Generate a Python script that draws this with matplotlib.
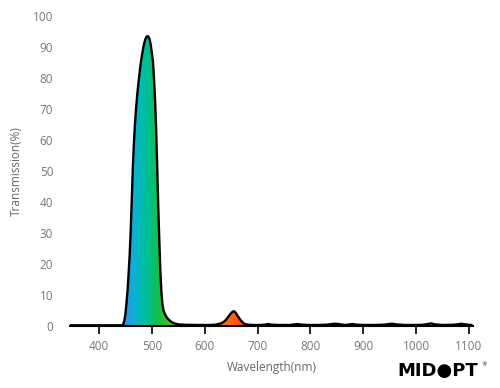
import numpy as np
import matplotlib.pyplot as plt
from matplotlib.colors import LinearSegmentedColormap
from matplotlib.patches import Polygon

# Transmission curve
wavelength = [345, 400, 440, 444, 446, 448, 450, 452, 454, 456, 458, 460, 462, 464,
              466, 468, 470, 472, 474, 476, 478, 480, 482, 484, 486, 488, 490, 492,
              494, 496, 498, 500, 502, 504, 506, 508, 510, 512, 514, 516, 518, 520,
              522, 525, 528, 532, 536, 540, 545, 550, 565, 590, 610, 620, 626, 632,
              636, 640, 644, 648, 651, 654, 656, 659, 662, 665, 668, 672, 676, 682,
              692, 705, 714, 720, 727, 740, 760, 768, 775, 782, 795, 815, 832, 840,
              847, 855, 866, 873, 880, 887, 900, 920, 940, 948, 955, 962, 980, 1000,
              1015, 1022, 1029, 1036, 1050, 1068, 1078, 1086, 1093, 1105]
transmission = [0.2, 0.2, 0.2, 0.2, 0.6, 1.8, 4, 7.5, 11.5, 17, 23, 31, 41, 51,
                59, 65, 70, 74, 77.5, 80.5, 83.5, 86, 88, 90, 91.5, 92.6, 93.3, 93.5,
                93.2, 92.3, 90.5, 88, 85.5, 80, 73, 64, 52, 39, 28, 18, 11, 7,
                5, 3.7, 2.8, 2, 1.4, 1, 0.7, 0.5, 0.35, 0.3, 0.3, 0.4, 0.6, 0.9,
                1.3, 1.9, 2.8, 3.7, 4.3, 4.7, 4.7, 4.2, 3.3, 2.6, 1.9, 1.1, 0.6, 0.4,
                0.3, 0.3, 0.4, 0.6, 0.4, 0.3, 0.3, 0.45, 0.6, 0.45, 0.3, 0.3, 0.4, 0.6,
                0.7, 0.55, 0.3, 0.45, 0.6, 0.4, 0.3, 0.3, 0.4, 0.6, 0.7, 0.5, 0.3, 0.3,
                0.4, 0.6, 0.8, 0.5, 0.3, 0.35, 0.5, 0.7, 0.5, 0.3]

x_ticks = [400, 500, 600, 700, 800, 900, 1000, 1100]
y_ticks = [0, 10, 20, 30, 40, 50, 60, 70, 80, 90, 100]

# spectrum colours used for the fill under the curve
spec_nm = [430, 450, 465, 480, 495, 510, 530, 560, 600, 630, 655, 680, 710]
spec_col = ['#2a6fe0', '#2a95e0', '#10aed8', '#00bcb0', '#00c088', '#10c050',
            '#40c020', '#a0d000', '#ffb000', '#ff7a10', '#ff5a10', '#ff3a00', '#d01000']

wl = np.array(wavelength, dtype=float)
tr = np.array(transmission, dtype=float)

fig = plt.figure(figsize=(5, 3.88), dpi=100)
ax = fig.add_axes([0.14, 0.16, 0.806, 0.799])

# gradient fill clipped to the area under the curve
lo, hi = spec_nm[0], spec_nm[-1]
cmap = LinearSegmentedColormap.from_list(
    'spec', [((n - lo) / (hi - lo), c) for n, c in zip(spec_nm, spec_col)])
grad = np.linspace(0, 1, 512).reshape(1, -1)
img = ax.imshow(grad, cmap=cmap, aspect='auto', extent=[lo, hi, 0, 100],
                origin='lower', zorder=1, interpolation='bilinear')
verts = [(wl[0], 0)] + list(zip(wl, tr)) + [(wl[-1], 0)]
poly = Polygon(verts, closed=True, facecolor='none', edgecolor='none')
ax.add_patch(poly)
img.set_clip_path(poly)

ax.plot(wl, tr, color='black', lw=1.7, zorder=3, solid_joinstyle='round')

ax.set_xlim(345, 1108)
ax.set_ylim(0, 100)
ax.set_xticks(x_ticks)
ax.set_yticks(y_ticks)

for s in ['top', 'right', 'left']:
    ax.spines[s].set_visible(False)
ax.spines['bottom'].set_linewidth(1.5)
ax.tick_params(axis='x', direction='out', length=6, width=1.2, color='black',
               labelsize=8.5, labelcolor='#777777', pad=4)
ax.tick_params(axis='y', length=0, labelsize=8.5, labelcolor='#777777', pad=12)

ax.set_xlabel('Wavelength(nm)', fontsize=8.5, color='#666666', labelpad=6)
ax.set_ylabel('Transmission(%)', fontsize=8.5, color='#666666', labelpad=7)

for lab in ax.get_xticklabels() + ax.get_yticklabels():
    lab.set_family('Open Sans')
ax.xaxis.label.set_family('Open Sans')
ax.yaxis.label.set_family('Open Sans')

# logo
fig.text(0.795, 0.03, 'MID\u25cfPT', fontsize=13, fontweight='bold',
         color='black', family='DejaVu Sans')
fig.text(0.962, 0.055, '\u00ae', fontsize=4, color='black')

fig.savefig('out.png', dpi=100)
